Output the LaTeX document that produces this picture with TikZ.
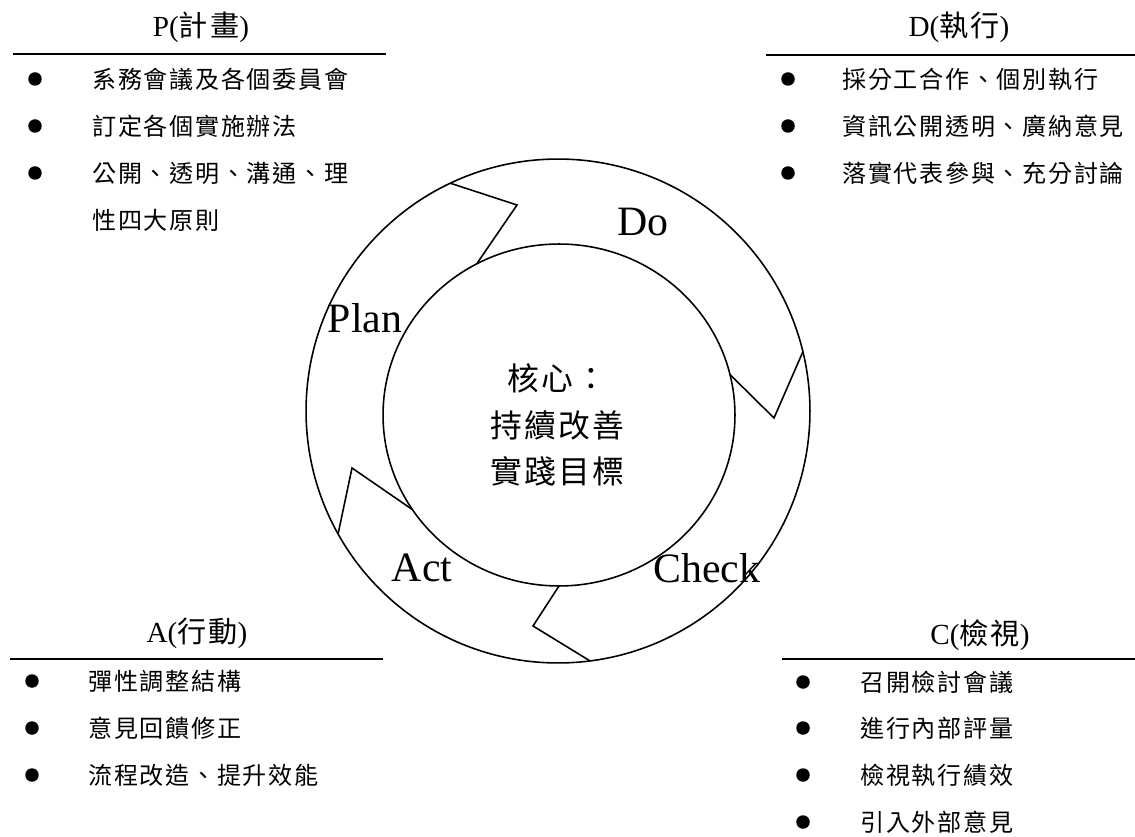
\documentclass[tikz,border=0pt]{standalone}
\usepackage{fontspec}
\setmainfont{Liberation Serif}
\newfontfamily\cjk{Noto Sans CJK TC}[LetterSpace=7]
\usetikzlibrary{positioning, calc}

\begin{document}
\begin{tikzpicture}[x=0.02cm, y=-0.02cm,
    ring/.style={line width=0.9pt},
    rule/.style={line width=1.7pt},
    dot/.style={circle, fill, inner sep=0pt, minimum size=0.27cm},
    head/.style={font=\fontsize{16.6}{19}\selectfont},
    item/.style={anchor=west, inner sep=0pt, font=\cjk\fontsize{13.7}{16}\selectfont},
    stage/.style={inner sep=0pt, font=\fontsize{23.8}{28}\selectfont}]
        \useasboundingbox (0,0) rectangle (1135,837);
        % ring
        \coordinate (o) at (558,411);
        \coordinate (i) at (559,415);
        \draw[ring] (o) circle [radius=5.04cm];
        \draw[ring] (i) ellipse [x radius=3.52cm, y radius=3.42cm];
        \draw[ring] ($(o)+(115.3:5.04cm)$) -- (517,205) -- ($(i)+(117.9:3.52cm and 3.42cm)$);
        \draw[ring] ($(o)+(13.6:5.04cm)$) -- (774,418) -- ($(i)+(13.7:3.52cm and 3.42cm)$);
        \draw[ring] ($(i)+(270:3.52cm and 3.42cm)$) -- (533,626) -- ($(o)+(-82.7:5.04cm)$);
        \draw[ring] ($(o)+(209.2:5.04cm)$) -- (352,468) -- ($(i)+(213.6:3.52cm and 3.42cm)$);
        \node[stage] (do) at (643,222) {Do};
        \node[stage] (plan) at (365,318) {Plan};
        \node[stage] (act) at (422,568) {Act};
        \node[stage] (check) at (707,568) {Check};
        \node[align=center, font=\cjk\fontsize{18.1}{26.6}\selectfont] (core) at (557,425) {核心：\\持續改善\\實踐目標};
        % P
        \node[head] (phead) at (201,27) {P({\cjk 計畫})};
        \draw[rule] (13,54) -- (386,54);
        \node[dot] (p1) at (35,79) {};
        \node[dot] (p2) at (35,126) {};
        \node[dot] (p3) at (35,173) {};
        \node[item] (pt1) at (92,79) {系務會議及各個委員會};
        \node[item] (pt2) at (92,126) {訂定各個實施辦法};
        \node[item] (pt3) at (92,173) {公開、透明、溝通、理};
        \node[item] (pt4) at (92,220) {性四大原則};
        % D
        \node[head] (dhead) at (959,27) {D({\cjk 執行})};
        \draw[rule] (766,55) -- (1135,55);
        \node[dot] (d1) at (788,79) {};
        \node[dot] (d2) at (788,126) {};
        \node[dot] (d3) at (788,173) {};
        \node[item] (dt1) at (842,79) {採分工合作、個別執行};
        \node[item] (dt2) at (842,126) {資訊公開透明、廣納意見};
        \node[item] (dt3) at (842,173) {落實代表參與、充分討論};
        % A
        \node[head] (ahead) at (197,633) {A({\cjk 行動})};
        \draw[rule] (10,659) -- (383,659);
        \node[dot] (a1) at (32,681) {};
        \node[dot] (a2) at (32,728) {};
        \node[dot] (a3) at (32,775) {};
        \node[item] (at1) at (88,681) {彈性調整結構};
        \node[item] (at2) at (88,728) {意見回饋修正};
        \node[item] (at3) at (88,775) {流程改造、提升效能};
        % C
        \node[head] (chead) at (980,635) {C({\cjk 檢視})};
        \draw[rule] (782,659) -- (1135,659);
        \node[dot] (c1) at (803,682) {};
        \node[dot] (c2) at (803,728) {};
        \node[dot] (c3) at (803,775) {};
        \node[dot] (c4) at (803,822) {};
        \node[item] (ct1) at (860,682) {召開檢討會議};
        \node[item] (ct2) at (860,728) {進行內部評量};
        \node[item] (ct3) at (860,775) {檢視執行績效};
        \node[item] (ct4) at (860,822) {引入外部意見};
    \end{tikzpicture}
\end{document}
